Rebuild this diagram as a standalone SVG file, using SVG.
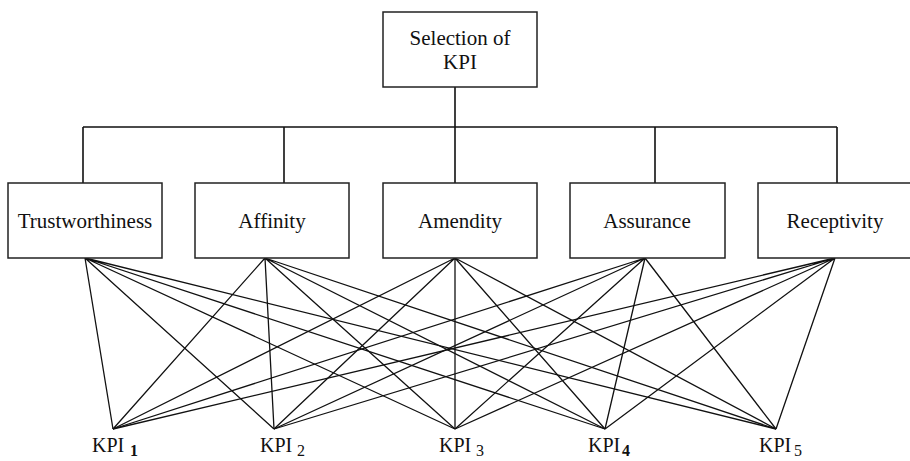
<svg xmlns="http://www.w3.org/2000/svg" width="910" height="461" viewBox="0 0 910 461">
<style>
.box{fill:#fff;stroke:#222;stroke-width:1.5}
text{font-family:'Liberation Serif','Times New Roman',Times,serif;fill:#111}
.t{font-size:21px;text-anchor:middle}
.k{font-size:20px}
.s{font-size:16px}
.tree{stroke:#111;stroke-width:1.6;fill:none}
.mesh{stroke:#111;stroke-width:1.3;fill:none}
</style>
<rect width="910" height="461" fill="#fff"/>
<g id="connectors">
<path class="tree" d="M455 87V127M83 127H837M83 127V183M284 127V183M455 127V183M655 127V183M837 127V183"/>
<g class="mesh">
<path d="M85 258L113 429M85 258L274 429M85 258L455 429M85 258L605 429M85 258L776 429"/>
<path d="M265 258L113 429M265 258L274 429M265 258L455 429M265 258L605 429M265 258L776 429"/>
<path d="M455 258L113 429M455 258L274 429M455 258L455 429M455 258L605 429M455 258L776 429"/>
<path d="M645 258L113 429M645 258L274 429M645 258L455 429M645 258L605 429M645 258L776 429"/>
<path d="M835 258L113 429M835 258L274 429M835 258L455 429M835 258L605 429M835 258L776 429"/>
</g>
</g>
<g id="root"><rect class="box" x="383" y="12" width="154" height="75"/><text class="t" x="460" y="45">Selection of</text><text class="t" x="460" y="69">KPI</text></g>
<g id="trust"><rect class="box" x="8" y="183" width="154" height="75"/><text class="t" x="85" y="228">Trustworthiness</text></g>
<g id="affinity"><rect class="box" x="195" y="183" width="154" height="75"/><text class="t" x="272" y="228">Affinity</text></g>
<g id="amendity"><rect class="box" x="383" y="183" width="154" height="75"/><text class="t" x="460" y="228">Amendity</text></g>
<g id="assurance"><rect class="box" x="570" y="183" width="155" height="75"/><text class="t" x="647" y="228">Assurance</text></g>
<g id="receptivity"><rect class="box" x="758" y="183" width="155" height="75"/><text class="t" x="835" y="228">Receptivity</text></g>
<g id="kpi1"><text class="k" x="92" y="452">KPI</text><text class="s" x="130" y="456" font-weight="bold">1</text></g>
<g id="kpi2"><text class="k" x="260" y="452">KPI</text><text class="s" x="297" y="456">2</text></g>
<g id="kpi3"><text class="k" x="439" y="452">KPI</text><text class="s" x="476" y="456">3</text></g>
<g id="kpi4"><text class="k" x="588" y="452">KPI</text><text class="s" x="622" y="456" font-weight="bold">4</text></g>
<g id="kpi5"><text class="k" x="759" y="452">KPI</text><text class="s" x="794" y="456">5</text></g>
</svg>
